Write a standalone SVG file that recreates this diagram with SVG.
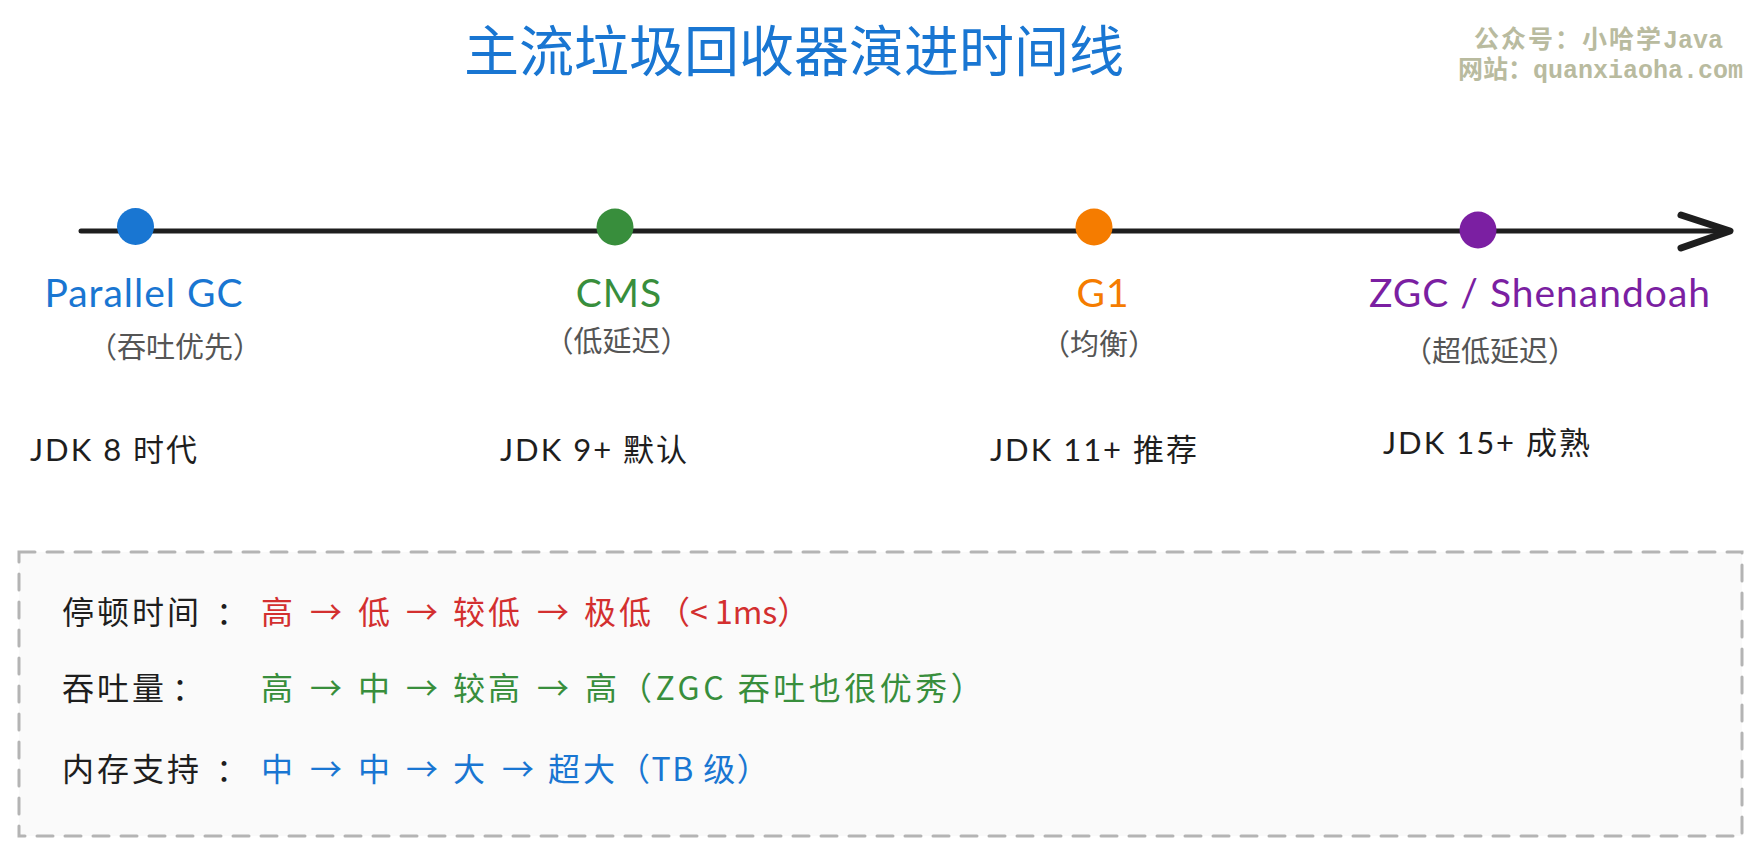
<svg xmlns="http://www.w3.org/2000/svg" width="1760" height="856" viewBox="0 0 1760 856">
  <style>
    .title { font-family: "Noto Sans CJK SC", sans-serif; font-size: 55px; fill: #1976d2; }
    .wm { font-family: "Liberation Mono", "Noto Sans CJK SC", monospace; font-size: 25px; font-weight: bold; fill: #b9bb9f; }
    .name { font-family: Lato, "Noto Sans CJK SC", sans-serif; font-size: 39px; text-anchor: middle; letter-spacing: 1px; }
    .sub { font-family: "Noto Sans CJK SC", sans-serif; font-size: 29px; fill: #555555; text-anchor: middle; }
    .jdk { font-family: Lato, "Noto Sans CJK SC", sans-serif; font-size: 31px; fill: #1e1e1e; letter-spacing: 2px; }
    .row { font-family: "Noto Sans CJK SC", sans-serif; font-size: 32px; }
    .lbl { fill: #1e1e1e; letter-spacing: 3px; }
    .blue { fill: #1976d2; }
    .green { fill: #388e3c; }
    .orange { fill: #f57c00; }
    .purple { fill: #7b1fa2; }
    .red { fill: #d32f2f; }
    .axis { stroke: #1e1e1e; stroke-width: 5; stroke-linecap: round; fill: none; }
    .head { stroke: #1e1e1e; stroke-width: 7; stroke-linecap: round; stroke-linejoin: round; fill: none; }
  </style>

  <rect width="1760" height="856" fill="#ffffff"/>

  <g id="title">
    <text class="title" x="794" y="71" text-anchor="middle">主流垃圾回收器演进时间线</text>
  </g>

  <g id="watermark">
    <text class="wm" x="1474" y="48"><tspan letter-spacing="2">公众号：小哈学</tspan>Java</text>
    <text class="wm" x="1458" y="78">网站：quanxiaoha.com</text>
  </g>

  <g id="connectors">
    <line class="axis" x1="81" y1="231" x2="1728" y2="231"/>
    <polyline class="head" points="1681,215 1730,231 1681,248"/>
  </g>

  <g id="node-parallel">
    <circle cx="135.5" cy="226.5" r="18.5" class="blue"/>
    <text class="name blue" x="144" y="307">Parallel GC</text>
    <text class="sub" x="175" y="358">（吞吐优先）</text>
    <text class="jdk" x="30" y="461">JDK 8 时代</text>
  </g>

  <g id="node-cms">
    <circle cx="615" cy="227" r="18.5" class="green"/>
    <text class="name green" x="619" y="307">CMS</text>
    <text class="sub" x="617" y="352">（低延迟）</text>
    <text class="jdk" x="500" y="461">JDK 9+ 默认</text>
  </g>

  <g id="node-g1">
    <circle cx="1094" cy="227" r="18.5" class="orange"/>
    <text class="name orange" x="1103" y="307">G1</text>
    <text class="sub" x="1099" y="355">（均衡）</text>
    <text class="jdk" x="990" y="461">JDK 11+ 推荐</text>
  </g>

  <g id="node-zgc">
    <circle cx="1478" cy="230" r="18.5" class="purple"/>
    <text class="name purple" x="1540" y="307">ZGC / Shenandoah</text>
    <text class="sub" x="1490" y="362">（超低延迟）</text>
    <text class="jdk" x="1383" y="454">JDK 15+ 成熟</text>
  </g>

  <g id="summary">
    <rect x="19" y="552" width="1723" height="284" fill="#fafafa" stroke="#b4b4b4" stroke-width="3" stroke-dasharray="16 12" stroke-linecap="round"/>

    <text class="row lbl" x="62" y="624">停顿时间<tspan x="216">：</tspan></text>
    <text class="row red" y="624"><tspan x="261">高</tspan><tspan x="310">→</tspan><tspan x="358">低</tspan><tspan x="406">→</tspan><tspan x="453" letter-spacing="3">较低</tspan><tspan x="537">→</tspan><tspan x="584" letter-spacing="3">极低</tspan><tspan x="658">（&lt; 1ms）</tspan></text>

    <text class="row lbl" x="62" y="700">吞吐量<tspan x="172">：</tspan></text>
    <text class="row green" y="700"><tspan x="261">高</tspan><tspan x="310">→</tspan><tspan x="358">中</tspan><tspan x="406">→</tspan><tspan x="453" letter-spacing="3">较高</tspan><tspan x="537">→</tspan><tspan x="585">高</tspan><tspan x="620" letter-spacing="3.5">（ZGC 吞吐也很优秀）</tspan></text>

    <text class="row lbl" x="62" y="781">内存支持<tspan x="216">：</tspan></text>
    <text class="row blue" y="781"><tspan x="261">中</tspan><tspan x="310">→</tspan><tspan x="358">中</tspan><tspan x="406">→</tspan><tspan x="453">大</tspan><tspan x="502">→</tspan><tspan x="548" letter-spacing="3">超大</tspan><tspan x="618" letter-spacing="1.5">（TB 级）</tspan></text>
  </g>
</svg>
